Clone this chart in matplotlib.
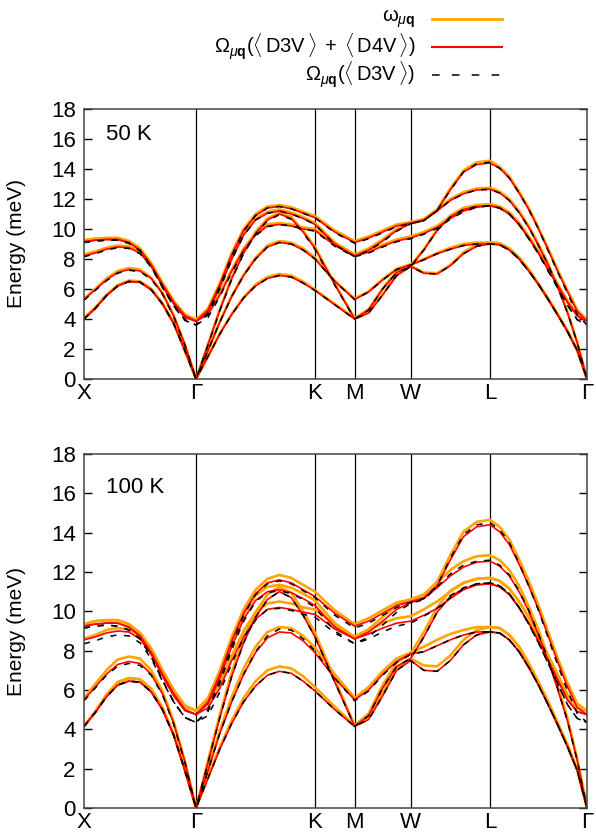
import numpy as np
import matplotlib
matplotlib.use("Agg")
import matplotlib.pyplot as plt
from matplotlib.lines import Line2D

plt.rcParams['font.family'] = ['Liberation Sans', 'DejaVu Sans']
plt.rcParams['mathtext.fontset'] = 'custom'
plt.rcParams['mathtext.rm'] = 'Liberation Sans'
plt.rcParams['mathtext.it'] = 'Liberation Sans:italic'
plt.rcParams['mathtext.bf'] = 'Liberation Sans:bold'

# path X-G-K-M-W-L-G, segment lengths in 2pi/a
sym_labels = ['X', 'Γ', 'K', 'M', 'W', 'L', 'Γ']
seg_lengths = [1.0, 1.0607, 0.3536, 0.5, 0.7071, 0.8660]
seg_fracs = [np.linspace(0, 1, 11), np.linspace(0.1, 1, 10), [0.5, 1.0],
             [0.25, 0.5, 0.75, 1.0], np.arange(1, 7) / 6, np.linspace(0.1, 1, 10)]

# energies (meV) per band, sampled along the path
# columns: X-G (11) | G-K (10) | K-M (2) | M-W (4) | W-L (6) | L-G (10)

# ---- 50 K ----
w_50K = [
    [9.25, 9.35, 9.4, 9.4, 9.2, 8.7, 7.7, 6.4, 5.2, 4.3, 3.95, 4.7, 6.4, 8.4, 10.0, 11.0, 11.5, 11.6, 11.45, 11.15, 10.85,
     9.9, 9.2, 9.5, 9.9, 10.3, 10.45, 10.65, 11.3, 12.7, 13.9, 14.45, 14.55, 14.15, 13.5, 12.5, 11.4, 10.1, 8.7, 7.25, 5.9, 4.6, 3.95],
    [9.25, 9.35, 9.4, 9.4, 9.2, 8.7, 7.7, 6.4, 5.2, 4.3, 3.95, 4.6, 6.2, 8.1, 9.7, 10.7, 11.15, 11.3, 11.1, 10.8, 10.4,
     9.1, 8.3, 8.7, 9.3, 10.0, 10.45, 10.65, 11.3, 12.0, 12.45, 12.7, 12.75, 12.5, 12.0, 11.2, 10.2, 9.0, 7.7, 6.15, 4.45, 2.45, 0],
    [8.3, 8.5, 8.75, 8.9, 8.85, 8.5, 7.6, 6.3, 5.1, 4.2, 3.95, 4.4, 5.7, 7.3, 8.7, 9.7, 10.3, 10.4, 10.3, 10.1, 10.0,
     9.0, 8.3, 8.55, 8.95, 9.3, 9.5, 9.8, 10.2, 10.8, 11.3, 11.55, 11.65, 11.5, 11.1, 10.4, 9.5, 8.5, 7.4, 6.3, 5.2, 4.3, 3.95],
    [5.35, 6.0, 6.7, 7.2, 7.4, 7.3, 6.75, 5.75, 4.25, 2.3, 0, 2.3, 4.65, 6.75, 8.5, 9.8, 10.7, 11.1, 10.8, 9.9, 8.8,
     6.35, 4.05, 4.65, 6.05, 7.15, 7.55, 8.65, 9.95, 10.9, 11.4, 11.6, 11.65, 11.5, 11.1, 10.4, 9.5, 8.5, 7.4, 6.3, 5.2, 4.3, 3.95],
    [4.05, 4.75, 5.6, 6.25, 6.55, 6.5, 6.0, 5.05, 3.75, 1.9, 0, 1.9, 3.85, 5.55, 6.95, 8.1, 8.9, 9.2, 9.1, 8.7, 8.1,
     6.55, 5.35, 5.85, 6.65, 7.35, 7.65, 8.0, 8.4, 8.75, 9.0, 9.1, 9.1, 9.05, 8.7, 8.1, 7.3, 6.35, 5.35, 4.3, 3.2, 1.9, 0],
    [4.05, 4.75, 5.6, 6.25, 6.55, 6.5, 6.0, 5.05, 3.75, 1.9, 0, 1.5, 3.05, 4.35, 5.45, 6.3, 6.8, 7.0, 6.9, 6.5, 5.95,
     5.0, 4.05, 4.45, 5.65, 6.95, 7.55, 7.1, 7.05, 7.6, 8.45, 8.95, 9.1, 9.05, 8.7, 8.1, 7.3, 6.35, 5.35, 4.3, 3.2, 1.9, 0],
]
om34_50K = [
    [9.15, 9.25, 9.3, 9.3, 9.1, 8.6, 7.6, 6.3, 5.1, 4.2, 3.85, 4.6, 6.3, 8.3, 9.9, 10.9, 11.4, 11.5, 11.35, 11.05, 10.75,
     9.8, 9.1, 9.4, 9.8, 10.2, 10.4, 10.6, 11.25, 12.6, 13.8, 14.3, 14.4, 14.05, 13.4, 12.4, 11.3, 10.0, 8.6, 7.15, 5.8, 4.5, 3.85],
    [9.15, 9.25, 9.3, 9.3, 9.1, 8.6, 7.6, 6.3, 5.1, 4.2, 3.85, 4.5, 6.1, 8.0, 9.6, 10.6, 11.05, 11.2, 11.0, 10.7, 10.3,
     9.0, 8.2, 8.6, 9.2, 9.9, 10.35, 10.6, 11.2, 11.9, 12.35, 12.6, 12.65, 12.4, 11.9, 11.1, 10.1, 8.9, 7.6, 6.1, 4.4, 2.4, 0],
    [8.2, 8.4, 8.65, 8.8, 8.75, 8.4, 7.5, 6.2, 5.0, 4.1, 3.85, 4.3, 5.6, 7.2, 8.6, 9.6, 10.2, 10.3, 10.2, 10.0, 9.9,
     8.9, 8.2, 8.45, 8.85, 9.2, 9.4, 9.7, 10.1, 10.7, 11.2, 11.45, 11.55, 11.4, 11.0, 10.3, 9.4, 8.4, 7.3, 6.2, 5.1, 4.2, 3.85],
    [5.3, 5.95, 6.6, 7.1, 7.3, 7.2, 6.7, 5.7, 4.2, 2.3, 0, 2.3, 4.6, 6.7, 8.4, 9.7, 10.6, 11.0, 10.7, 9.8, 8.7,
     6.3, 4.0, 4.6, 6.0, 7.1, 7.5, 8.6, 9.9, 10.8, 11.3, 11.5, 11.55, 11.4, 11.0, 10.3, 9.4, 8.4, 7.3, 6.2, 5.1, 4.2, 3.85],
    [4.0, 4.7, 5.55, 6.2, 6.5, 6.45, 5.95, 5.0, 3.7, 1.9, 0, 1.9, 3.8, 5.5, 6.9, 8.0, 8.8, 9.1, 9.0, 8.6, 8.0,
     6.5, 5.3, 5.8, 6.6, 7.3, 7.6, 7.95, 8.35, 8.65, 8.9, 9.0, 9.0, 8.95, 8.6, 8.0, 7.2, 6.3, 5.3, 4.25, 3.15, 1.9, 0],
    [4.0, 4.7, 5.55, 6.2, 6.5, 6.45, 5.95, 5.0, 3.7, 1.9, 0, 1.5, 3.0, 4.3, 5.4, 6.2, 6.7, 6.9, 6.8, 6.4, 5.9,
     4.95, 4.0, 4.4, 5.6, 6.9, 7.5, 7.05, 7.0, 7.55, 8.35, 8.85, 9.0, 8.95, 8.6, 8.0, 7.2, 6.3, 5.3, 4.25, 3.15, 1.9, 0],
]
om3_50K = [
    [9.1, 9.2, 9.25, 9.25, 9.05, 8.55, 7.5, 6.15, 4.9, 3.95, 3.6, 4.4, 6.2, 8.2, 9.85, 10.9, 11.4, 11.5, 11.35, 11.05, 10.75,
     9.75, 9.05, 9.35, 9.75, 10.15, 10.35, 10.55, 11.2, 12.6, 13.8, 14.35, 14.45, 14.05, 13.4, 12.4, 11.3, 10.0, 8.55, 7.1, 5.7, 4.3, 3.6],
    [9.1, 9.2, 9.25, 9.25, 9.05, 8.55, 7.5, 6.15, 4.9, 3.95, 3.6, 4.3, 6.0, 7.95, 9.55, 10.6, 11.05, 11.2, 11.0, 10.7, 10.3,
     8.95, 8.15, 8.55, 9.15, 9.85, 10.35, 10.55, 11.2, 11.9, 12.35, 12.6, 12.65, 12.4, 11.9, 11.1, 10.1, 8.9, 7.6, 6.1, 4.4, 2.4, 0],
    [8.15, 8.35, 8.6, 8.75, 8.7, 8.35, 7.45, 6.1, 4.85, 3.9, 3.6, 4.1, 5.5, 7.1, 8.55, 9.55, 10.15, 10.3, 10.2, 10.0, 9.85,
     8.85, 8.15, 8.4, 8.8, 9.15, 9.35, 9.65, 10.05, 10.65, 11.15, 11.45, 11.55, 11.4, 11.0, 10.3, 9.35, 8.35, 7.2, 6.05, 4.9, 3.95, 3.6],
    [5.25, 5.9, 6.55, 7.05, 7.25, 7.15, 6.65, 5.65, 4.15, 2.25, 0, 2.25, 4.55, 6.65, 8.35, 9.65, 10.55, 10.95, 10.65, 9.75, 8.65,
     6.25, 4.0, 4.6, 6.0, 7.1, 7.5, 8.6, 9.9, 10.8, 11.3, 11.5, 11.55, 11.4, 11.0, 10.3, 9.35, 8.35, 7.2, 6.05, 4.9, 3.95, 3.6],
    [4.0, 4.7, 5.55, 6.2, 6.5, 6.45, 5.95, 5.0, 3.7, 1.9, 0, 1.9, 3.8, 5.5, 6.9, 8.0, 8.8, 9.1, 9.0, 8.6, 8.0,
     6.5, 5.3, 5.8, 6.6, 7.3, 7.6, 7.95, 8.35, 8.65, 8.9, 9.0, 9.0, 8.95, 8.6, 8.0, 7.2, 6.3, 5.3, 4.25, 3.15, 1.9, 0],
    [4.0, 4.7, 5.55, 6.2, 6.5, 6.45, 5.95, 5.0, 3.7, 1.9, 0, 1.5, 3.0, 4.3, 5.4, 6.2, 6.7, 6.9, 6.8, 6.4, 5.9,
     4.95, 4.0, 4.4, 5.6, 6.9, 7.5, 7.05, 7.0, 7.55, 8.35, 8.85, 9.0, 8.95, 8.6, 8.0, 7.2, 6.3, 5.3, 4.25, 3.15, 1.9, 0],
]

# ---- 100 K ----
w_100K = [
    [9.35, 9.5, 9.55, 9.55, 9.35, 8.9, 8.1, 7.0, 6.0, 5.2, 4.95, 5.6, 7.0, 8.7, 10.1, 11.1, 11.65, 11.85, 11.7, 11.35, 11.0,
     10.05, 9.35, 9.65, 10.05, 10.45, 10.6, 10.85, 11.5, 12.85, 14.05, 14.55, 14.65, 14.3, 13.65, 12.65, 11.55, 10.3, 8.95, 7.6, 6.35, 5.3, 4.95],
    [9.35, 9.5, 9.55, 9.55, 9.35, 8.9, 8.1, 7.0, 6.0, 5.2, 4.95, 5.5, 6.8, 8.45, 9.85, 10.8, 11.25, 11.35, 11.2, 10.9, 10.55,
     9.4, 8.7, 9.1, 9.7, 10.3, 10.6, 10.85, 11.45, 12.1, 12.55, 12.8, 12.85, 12.6, 12.1, 11.3, 10.25, 9.05, 7.7, 6.2, 4.55, 2.5, 0],
    [8.6, 8.8, 9.05, 9.15, 9.1, 8.75, 7.95, 6.9, 5.9, 5.15, 4.95, 5.3, 6.35, 7.75, 9.0, 9.95, 10.4, 10.5, 10.4, 10.2, 10.1,
     9.3, 8.7, 9.05, 9.4, 9.65, 9.75, 10.1, 10.5, 11.0, 11.45, 11.65, 11.7, 11.55, 11.15, 10.5, 9.7, 8.75, 7.75, 6.75, 5.75, 5.1, 4.95],
    [5.6, 6.3, 7.0, 7.55, 7.7, 7.6, 7.0, 5.95, 4.4, 2.4, 0, 2.4, 4.75, 6.9, 8.65, 9.95, 10.85, 11.25, 10.95, 10.0, 8.9,
     6.55, 4.2, 4.8, 6.25, 7.4, 7.85, 8.95, 10.2, 11.05, 11.45, 11.65, 11.7, 11.55, 11.15, 10.5, 9.7, 8.75, 7.75, 6.75, 5.75, 5.1, 4.95],
    [4.15, 4.9, 5.75, 6.4, 6.6, 6.55, 6.05, 5.1, 3.75, 1.95, 0, 1.95, 3.95, 5.65, 7.1, 8.2, 8.95, 9.2, 9.15, 8.75, 8.15,
     6.8, 5.6, 6.15, 6.95, 7.6, 7.9, 8.2, 8.55, 8.85, 9.05, 9.2, 9.2, 9.15, 8.8, 8.2, 7.35, 6.4, 5.4, 4.3, 3.2, 1.95, 0],
    [4.15, 4.9, 5.75, 6.4, 6.6, 6.55, 6.05, 5.1, 3.75, 1.95, 0, 1.6, 3.1, 4.45, 5.6, 6.45, 7.0, 7.2, 7.1, 6.7, 6.15,
     5.15, 4.2, 4.6, 5.85, 7.15, 7.6, 7.25, 7.2, 7.75, 8.55, 9.05, 9.2, 9.15, 8.8, 8.2, 7.35, 6.4, 5.4, 4.3, 3.2, 1.95, 0],
]
om34_100K = [
    [9.25, 9.35, 9.4, 9.4, 9.2, 8.75, 7.9, 6.8, 5.8, 5.0, 4.75, 5.4, 6.8, 8.5, 9.9, 10.9, 11.45, 11.6, 11.45, 11.1, 10.75,
     9.9, 9.25, 9.5, 9.9, 10.3, 10.5, 10.7, 11.3, 12.6, 13.8, 14.3, 14.4, 14.05, 13.4, 12.4, 11.3, 10.1, 8.75, 7.4, 6.15, 5.1, 4.75],
    [9.25, 9.35, 9.4, 9.4, 9.2, 8.75, 7.9, 6.8, 5.8, 5.0, 4.75, 5.3, 6.6, 8.2, 9.6, 10.55, 11.0, 11.1, 10.95, 10.65, 10.3,
     9.2, 8.6, 8.95, 9.5, 10.1, 10.45, 10.65, 11.2, 11.8, 12.25, 12.5, 12.55, 12.3, 11.8, 11.0, 10.0, 8.8, 7.5, 6.0, 4.4, 2.4, 0],
    [8.55, 8.7, 8.9, 9.0, 8.95, 8.6, 7.8, 6.7, 5.7, 4.95, 4.75, 5.1, 6.1, 7.5, 8.7, 9.6, 10.1, 10.2, 10.1, 9.95, 9.85,
     9.1, 8.6, 8.85, 9.15, 9.4, 9.5, 9.8, 10.15, 10.65, 11.1, 11.35, 11.4, 11.25, 10.85, 10.2, 9.4, 8.5, 7.5, 6.5, 5.5, 4.9, 4.75],
    [5.5, 6.15, 6.8, 7.3, 7.45, 7.35, 6.8, 5.8, 4.3, 2.35, 0, 2.3, 4.6, 6.7, 8.4, 9.7, 10.6, 11.0, 10.7, 9.8, 8.7,
     6.4, 4.15, 4.7, 6.1, 7.2, 7.6, 8.7, 9.95, 10.75, 11.15, 11.35, 11.4, 11.25, 10.85, 10.2, 9.4, 8.5, 7.5, 6.5, 5.5, 4.9, 4.75],
    [4.15, 4.85, 5.65, 6.25, 6.45, 6.4, 5.9, 5.0, 3.7, 1.9, 0, 1.9, 3.8, 5.4, 6.8, 7.9, 8.65, 8.95, 8.9, 8.5, 7.9,
     6.6, 5.5, 6.0, 6.8, 7.45, 7.85, 7.95, 8.25, 8.55, 8.8, 8.95, 8.95, 8.9, 8.55, 7.95, 7.15, 6.25, 5.25, 4.2, 3.1, 1.9, 0],
    [4.15, 4.85, 5.65, 6.25, 6.45, 6.4, 5.9, 5.0, 3.7, 1.9, 0, 1.5, 3.0, 4.3, 5.4, 6.2, 6.75, 6.95, 6.85, 6.45, 5.95,
     5.0, 4.15, 4.5, 5.7, 7.0, 7.5, 7.0, 6.95, 7.5, 8.3, 8.8, 8.95, 8.9, 8.55, 7.95, 7.15, 6.25, 5.25, 4.2, 3.1, 1.9, 0],
]
om3_100K = [
    [9.15, 9.25, 9.3, 9.25, 9.05, 8.6, 7.7, 6.5, 5.4, 4.6, 4.35, 5.0, 6.5, 8.3, 9.8, 10.85, 11.4, 11.55, 11.4, 11.05, 10.7,
     9.8, 9.15, 9.4, 9.8, 10.2, 10.45, 10.65, 11.3, 12.7, 13.9, 14.4, 14.5, 14.15, 13.5, 12.45, 11.3, 10.05, 8.65, 7.25, 5.95, 4.8, 4.35],
    [9.15, 9.25, 9.3, 9.25, 9.05, 8.6, 7.7, 6.5, 5.4, 4.6, 4.35, 4.9, 6.35, 8.05, 9.5, 10.5, 10.95, 11.05, 10.9, 10.6, 10.2,
     9.0, 8.35, 8.7, 9.3, 9.95, 10.4, 10.6, 11.25, 11.9, 12.35, 12.55, 12.6, 12.35, 11.85, 11.05, 10.05, 8.85, 7.55, 6.05, 4.4, 2.4, 0],
    [8.35, 8.5, 8.7, 8.8, 8.75, 8.4, 7.6, 6.45, 5.4, 4.6, 4.35, 4.7, 5.9, 7.35, 8.65, 9.55, 10.1, 10.15, 10.05, 9.85, 9.7,
     8.9, 8.35, 8.6, 8.95, 9.25, 9.4, 9.75, 10.15, 10.7, 11.15, 11.4, 11.45, 11.3, 10.9, 10.2, 9.35, 8.4, 7.35, 6.3, 5.25, 4.55, 4.35],
    [5.45, 6.1, 6.75, 7.2, 7.35, 7.25, 6.75, 5.75, 4.25, 2.3, 0, 2.3, 4.6, 6.7, 8.4, 9.7, 10.6, 11.0, 10.7, 9.8, 8.7,
     6.4, 4.15, 4.7, 6.1, 7.2, 7.6, 8.7, 9.95, 10.8, 11.2, 11.4, 11.45, 11.3, 10.9, 10.2, 9.35, 8.4, 7.35, 6.3, 5.25, 4.55, 4.35],
    [4.15, 4.85, 5.65, 6.25, 6.45, 6.4, 5.9, 5.0, 3.7, 1.9, 0, 1.9, 3.8, 5.4, 6.8, 7.95, 8.75, 9.1, 9.05, 8.6, 8.0,
     6.6, 5.45, 5.95, 6.75, 7.4, 7.8, 7.95, 8.25, 8.55, 8.8, 8.95, 8.95, 8.9, 8.55, 7.95, 7.15, 6.25, 5.25, 4.2, 3.1, 1.9, 0],
    [4.15, 4.85, 5.65, 6.25, 6.45, 6.4, 5.9, 5.0, 3.7, 1.9, 0, 1.5, 3.0, 4.3, 5.4, 6.2, 6.75, 6.95, 6.85, 6.45, 5.95,
     5.0, 4.15, 4.5, 5.7, 7.0, 7.5, 7.0, 6.95, 7.5, 8.3, 8.8, 8.95, 8.9, 8.55, 7.95, 7.15, 6.25, 5.25, 4.2, 3.1, 1.9, 0],
]

# build k coordinate for each sample point and the high-symmetry ticks
sym_pos = np.concatenate([[0], np.cumsum(seg_lengths)])
kpath = np.concatenate([sym_pos[i] + np.asarray(f) * seg_lengths[i]
                        for i, f in enumerate(seg_fracs)])

ORANGE = '#FFA500'
RED = '#FF0000'
styles = [
    dict(color=ORANGE, lw=1.9, ls='-'),
    dict(color=RED, lw=1.2, ls='-'),
    dict(color='black', lw=1.1, ls=(0, (4, 5))),
]
FS = 16

fig = plt.figure(figsize=(5.96, 8.4), dpi=100)
ax1 = fig.add_axes([84 / 596, 1 - 379 / 840, 503 / 596, 270 / 840])
ax2 = fig.add_axes([84 / 596, 32 / 840, 503 / 596, 354 / 840])

panels = [(ax1, [w_50K, om34_50K, om3_50K], '50 K'),
          (ax2, [w_100K, om34_100K, om3_100K], '100 K')]

for ax, series, temp in panels:
    for xs in sym_pos[1:-1]:
        ax.axvline(xs, color='black', lw=0.9, zorder=1)
    for bands, st in zip(series, styles):
        for b in bands:
            ax.plot(kpath, b, zorder=2, **st)
    ax.set_xlim(sym_pos[0], sym_pos[-1])
    ax.set_ylim(0, 18)
    ax.set_yticks(range(0, 19, 2))
    ax.set_xticks(sym_pos)
    ax.set_xticklabels(sym_labels)
    ax.tick_params(axis='y', direction='in', left=True, right=True,
                   length=6, width=1, labelsize=FS, pad=6)
    ax.tick_params(axis='x', length=0, labelsize=FS, pad=3)
    for sp in ax.spines.values():
        sp.set_color('#444444')
        sp.set_linewidth(1.1)
    ax.set_ylabel('Energy (meV)', fontsize=15)
    ax.yaxis.set_label_coords(-0.115, 0.5)
    ax.text(0.2, 16.3, temp, fontsize=FS, va='center', ha='left')

# key above the panels: right-aligned text with a line sample to its right
labels = [r'$\mathrm{ω}_{\mu\mathbf{q}}$',
          r'$\Omega_{\mu\mathbf{q}}(\langle\,\mathrm{D3V}\,\rangle\;+\;\langle\,\mathrm{D4V}\,\rangle)$',
          r'$\Omega_{\mu\mathbf{q}}(\langle\,\mathrm{D3V}\,\rangle)$']
key_w = [2.0, 1.5, 1.1]
for i, (lab, st, lw) in enumerate(zip(labels, styles, key_w)):
    y = 1 - (19 + 28 * i) / 840
    fig.text(415 / 596, y, lab, fontsize=14.5, ha='right', va='center')
    key_style = dict(st, lw=lw)
    if i == 2:
        key_style['ls'] = (0, (5, 8))
    fig.add_artist(Line2D([432 / 596, 502 / 596], [y, y],
                          transform=fig.transFigure, **key_style))

fig.savefig('out.png', dpi=100)
